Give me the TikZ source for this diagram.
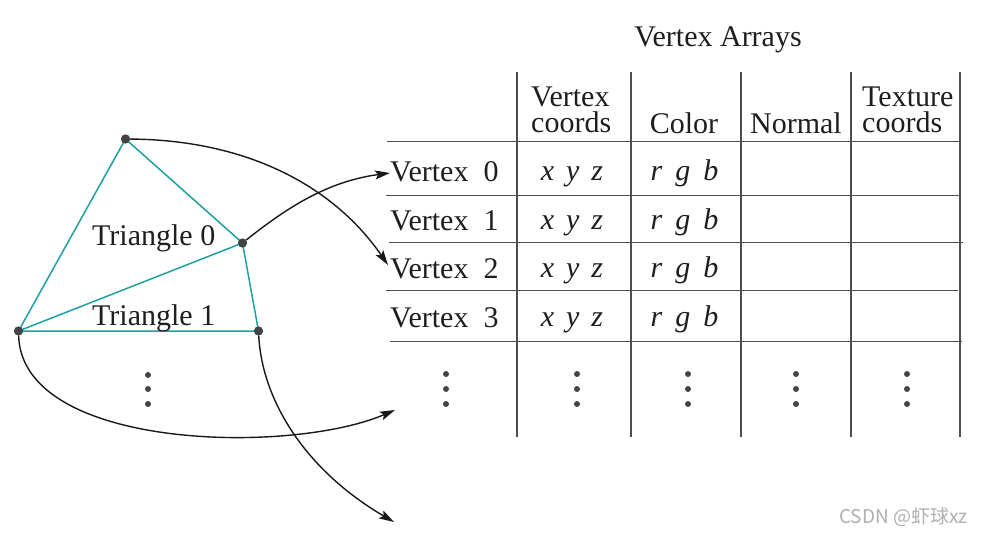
\documentclass[tikz,border=0pt]{standalone}
\usepackage{fontspec}
\setmainfont{Liberation Serif}
\newfontfamily\wmfont{Noto Sans CJK SC}
\usetikzlibrary{arrows.meta}
\definecolor{meshteal}{RGB}{30,160,160}
\definecolor{dotgray}{RGB}{68,68,68}
\definecolor{gridgray}{RGB}{78,78,78}
\definecolor{wmgray}{RGB}{175,175,175}
\definecolor{arrowblack}{RGB}{25,25,25}
\definecolor{textblack}{RGB}{30,30,30}
\begin{document}
\begin{tikzpicture}[x=1pt,y=-1pt,
  lbl/.style={font=\fontsize{30}{26}\selectfont, inner sep=0pt, text=textblack},
  mesh/.style={draw=meshteal, line width=1.5pt},
  vdot/.style={circle, fill=dotgray, inner sep=0pt, minimum size=9pt},
  edot/.style={circle, fill=dotgray, inner sep=0pt, minimum size=6pt},
  hline/.style={draw=gridgray, line width=1.5pt},
  vthin/.style={draw=gridgray, line width=1.1pt},
  vthick/.style={draw=gridgray, line width=1.8pt},
  conn/.style={draw=arrowblack, line width=1.4pt, -{Stealth[length=15pt,width=9pt,inset=3pt]}}]
\useasboundingbox (0,0) rectangle (983,533);

% ---- table grid ----
\coordinate (hl1a) at (387,141.5); \coordinate (hl1b) at (960,141.5);
\coordinate (hl2a) at (386,195.5); \coordinate (hl2b) at (959,195.5);
\coordinate (hl3a) at (389,242.5); \coordinate (hl3b) at (963,242.5);
\coordinate (hl4a) at (386,290.5); \coordinate (hl4b) at (958,290.5);
\coordinate (hl5a) at (390,341.5); \coordinate (hl5b) at (962,341.5);
\draw[hline] (hl1a) -- (hl1b);
\draw[hline] (hl2a) -- (hl2b);
\draw[hline] (hl3a) -- (hl3b);
\draw[hline] (hl4a) -- (hl4b);
\draw[hline] (hl5a) -- (hl5b);
\coordinate (vl1a) at (517,72); \coordinate (vl1b) at (517,437);
\coordinate (vl2a) at (631,72); \coordinate (vl2b) at (631,437);
\coordinate (vl3a) at (741,72); \coordinate (vl3b) at (741,437);
\coordinate (vl4a) at (851,72); \coordinate (vl4b) at (851,437);
\coordinate (vl5a) at (960,72); \coordinate (vl5b) at (960,437);
\draw[vthin] (vl1a) -- (vl1b);
\draw[vthick] (vl2a) -- (vl2b);
\draw[vthick] (vl3a) -- (vl3b);
\draw[vthin] (vl4a) -- (vl4b);
\draw[vthick] (vl5a) -- (vl5b);

% ---- titles and headers ----
\node[lbl, anchor=base] (title) at (718,46) {Vertex Arrays};
\node[lbl, anchor=south west, align=left] (hvc) at (531,133) {Vertex\\coords};
\node[lbl, anchor=base] (hcol) at (684,133) {Color};
\node[lbl, anchor=base] (hnor) at (796,133) {Normal};
\node[lbl, anchor=south west, align=left] (htc) at (862,133) {Texture\\coords};

% ---- rows ----
\node[lbl, anchor=base west] (r0) at (390,181) {Vertex~~0};
\node[lbl, anchor=base west] (r1) at (390,230) {Vertex~~1};
\node[lbl, anchor=base west] (r2) at (390,278) {Vertex~~2};
\node[lbl, anchor=base west] (r3) at (390,327) {Vertex~~3};
\node[lbl, anchor=base] (c0) at (572,180) {\itshape x\hspace{12pt}y\hspace{12pt}z};
\node[lbl, anchor=base] (c1) at (572,229) {\itshape x\hspace{12pt}y\hspace{12pt}z};
\node[lbl, anchor=base] (c2) at (572,277) {\itshape x\hspace{12pt}y\hspace{12pt}z};
\node[lbl, anchor=base] (c3) at (572,326) {\itshape x\hspace{12pt}y\hspace{12pt}z};
\node[lbl, anchor=base] (k0) at (684.5,180) {\itshape r\hspace{13pt}g\hspace{13pt}b};
\node[lbl, anchor=base] (k1) at (684.5,229) {\itshape r\hspace{13pt}g\hspace{13pt}b};
\node[lbl, anchor=base] (k2) at (684.5,277) {\itshape r\hspace{13pt}g\hspace{13pt}b};
\node[lbl, anchor=base] (k3) at (684.5,326) {\itshape r\hspace{13pt}g\hspace{13pt}b};

% ---- ellipsis dots in table ----
\foreach \cx [count=\i] in {446,577,688,796,907} {
  \node[edot] (td\i a) at (\cx,374) {};
  \node[edot] (td\i b) at (\cx,389) {};
  \node[edot] (td\i c) at (\cx,404) {};
}

% ---- mesh ----
\node[vdot] (v0) at (125.5,139) {};
\node[vdot] (v1) at (242.5,243) {};
\node[vdot] (v2) at (18.5,331) {};
\node[vdot] (v3) at (258.5,331) {};
\draw[mesh] (v2.center) -- (v0.center) -- (v1.center) -- (v3.center) -- (v2.center) -- (v1.center);
\node[vdot] at (v0) {};
\node[vdot] at (v1) {};
\node[vdot] at (v2) {};
\node[vdot] at (v3) {};
\node[lbl, anchor=base west] (t0) at (92,245) {Triangle 0};
\node[lbl, anchor=base west] (t1) at (92,325) {Triangle 1};
\node[edot] (md1) at (148,375) {};
\node[edot] (md2) at (148,389) {};
\node[edot] (md3) at (148,404) {};

% ---- connectors ----
\coordinate (e0) at (390,173);
\coordinate (e2) at (388,265);
\coordinate (eA) at (395,410);
\coordinate (eB) at (394,522);
\draw[conn] (v0) .. controls (250,140) and (335,188) .. (e2);
\draw[conn] (v1) .. controls (290,205) and (330,181) .. (e0);
\draw[conn] (v2) .. controls (22,450) and (290,455) .. (eA);
\draw[conn] (v3) .. controls (262,400) and (305,470) .. (eB);

% ---- watermark ----
\node[font=\wmfont\fontsize{19}{19}\selectfont, text=wmgray, inner sep=0pt, anchor=base east] (wm) at (968,523) {CSDN @虾球xz};
\end{tikzpicture}
\end{document}
